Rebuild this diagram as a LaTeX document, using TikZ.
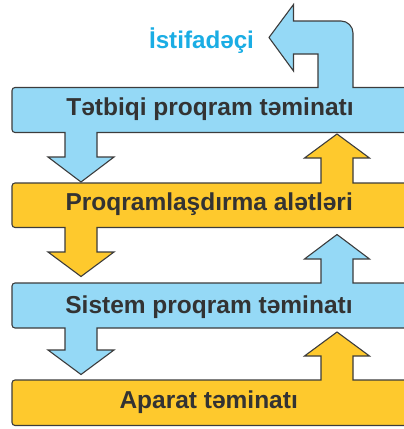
\documentclass[tikz,border=0pt]{standalone}
\usepackage{fontspec}
\setmainfont{Liberation Sans}
\definecolor{lblue}{HTML}{95D9F6}
\definecolor{lyellow}{HTML}{FEC92D}
\definecolor{edge}{HTML}{3C3C3C}
\definecolor{txt}{HTML}{333333}
\definecolor{cyanlbl}{HTML}{1AADE4}
\begin{document}
\begin{tikzpicture}[x=1pt,y=-1pt,
  layer/.style={draw=edge,line width=1.1pt,line join=miter},
  bluelayer/.style={layer,fill=lblue},
  yellowlayer/.style={layer,fill=lyellow},
  lbl/.style={font=\bfseries\fontsize{24.5}{28}\selectfont,text=txt,anchor=base,inner sep=0pt},
  userlbl/.style={font=\bfseries\fontsize{24.2}{28}\selectfont,text=cyanlbl,anchor=base,inner sep=0pt}]
\useasboundingbox (0,0) rectangle (404,429);
\clip (0,0) rectangle (404,429);
% Layer 1: application software, with arrow to user and arrow down
\path[bluelayer] (12,90.5) arc[start angle=180,end angle=270,radius=3]
  -- (318,87.5) -- (318,54) -- (293.5,54) -- (293.5,71) -- (269,37.5)
  -- (293.5,4.5) -- (293.5,21) -- (341,21) arc[start angle=270,end angle=360,radius=12]
  -- (353,87.5) -- (410,87.5) -- (410,132.5)
  -- (97,132.5) -- (97,157) -- (114,157) -- (81,182) -- (48,157) -- (65,157) -- (65,132.5)
  -- (15,132.5) arc[start angle=90,end angle=180,radius=3] -- cycle;
% Layer 2: programming tools
\path[yellowlayer] (12,186) arc[start angle=180,end angle=270,radius=3]
  -- (321,183) -- (321,158) -- (304.5,158) -- (337,134) -- (369.5,158) -- (353,158) -- (353,183)
  -- (410,183) -- (410,227.5)
  -- (97,227.5) -- (97,252) -- (114,252) -- (81,276.5) -- (48,252) -- (65,252) -- (65,227.5)
  -- (15,227.5) arc[start angle=90,end angle=180,radius=3] -- cycle;
% Layer 3: system software
\path[bluelayer] (12,286) arc[start angle=180,end angle=270,radius=3]
  -- (321,283) -- (321,259) -- (304.5,259) -- (337,234.5) -- (369.5,259) -- (353,259) -- (353,283)
  -- (410,283) -- (410,328)
  -- (97,328) -- (97,350) -- (114,350) -- (81,374.5) -- (48,350) -- (65,350) -- (65,328)
  -- (15,328) arc[start angle=90,end angle=180,radius=3] -- cycle;
% Layer 4: hardware
\path[yellowlayer] (12,383) arc[start angle=180,end angle=270,radius=3]
  -- (321,380) -- (321,356) -- (304.5,356) -- (337,332) -- (369.5,356) -- (353,356) -- (353,380)
  -- (410,380) -- (410,425.5)
  -- (15,425.5) arc[start angle=90,end angle=180,radius=3] -- cycle;
% Texts
\node[userlbl] (user) at (201.5,48) {İstifadəçi};
\node[lbl] (t1) at (210,115) {Tətbiqi proqram təminatı};
\node[lbl] (t2) at (209.2,210) {Proqramlaşdırma alətləri};
\node[lbl] (t3) at (209,313.3) {Sistem proqram təminatı};
\node[lbl] (t4) at (208.7,408.7) {Aparat təminatı};
\end{tikzpicture}
\end{document}
